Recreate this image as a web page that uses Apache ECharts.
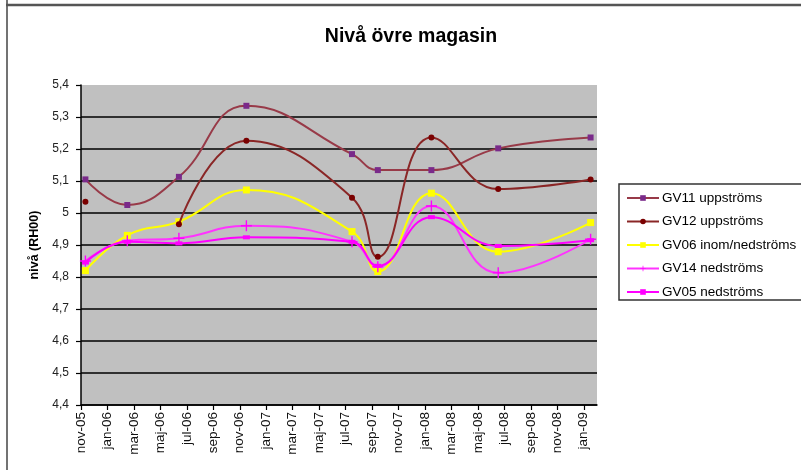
<!DOCTYPE html>
<html>
<head>
<meta charset="utf-8">
<script src="https://cdn.jsdelivr.net/npm/echarts@6/dist/echarts.min.js"></script>
<style>
html,body{margin:0;padding:0;background:#fff;}
#chart{width:801px;height:470px;}
</style>
</head>
<body>
<div id="chart"></div>
<script>
// ---- data ----
const sampleDates = ['2005-11-11','2006-02-15','2006-06-13','2006-11-16','2007-07-16','2007-09-14','2008-01-16','2008-06-17','2009-01-17'];
const gv11 = [5.105, 5.025, 5.113, 5.335, 5.184, 5.134, 5.134, 5.202, 5.236];
const gv12 = [5.035, null, 4.965, 5.226, 5.048, 4.863, 5.236, 5.075, 5.105];
const gv06 = [4.820, 4.930, 4.973, 5.072, 4.942, 4.817, 5.062, 4.879, 4.970];
const gv14 = [4.850, 4.913, 4.921, 4.960, 4.910, 4.832, 5.022, 4.813, 4.918];
const gv05 = [4.845, 4.910, 4.905, 4.924, 4.910, 4.835, 4.987, 4.897, 4.915];
const seriesNames = ['GV11 uppströms','GV12 uppströms','GV06 inom/nedströms','GV14 nedströms','GV05 nedströms'];
const xTickLabels = ['nov-05','jan-06','mar-06','maj-06','jul-06','sep-06','nov-06','jan-07','mar-07','maj-07','jul-07','sep-07','nov-07','jan-08','mar-08','maj-08','jul-08','sep-08','nov-08','jan-09'];
const yTickValues = [4.4,4.5,4.6,4.7,4.8,4.9,5.0,5.1,5.2,5.3,5.4];

// months since 2005-11-01
function monthsFromStart(s){
  const [y,m,d] = s.split('-').map(Number);
  const dim = new Date(y, m, 0).getDate();
  return (y-2005)*12 + (m-11) + (d-1)/dim;
}
const xs = sampleDates.map(monthsFromStart);
const tickMonths = xTickLabels.map((_,i)=>i*2);

function pairs(vals){ return vals.map((v,i)=>[xs[i], v]); }

const plusPath = 'path://M3.5,0h1v3.5h3.5v1h-3.5v3.5h-1v-3.5h-3.5v-1h3.5z';

const chart = echarts.init(document.getElementById('chart'), null, {renderer:'canvas'});
const gridColors = yTickValues.map((v,i)=> i===yTickValues.length-1 ? 'rgba(0,0,0,0)' : '#000');

const option = {
  backgroundColor:'#fff',
  animation:false,
  title:{
    text:'Nivå övre magasin',
    left:406, top:22, textAlign:'center',
    textStyle:{fontFamily:'Arial, Liberation Sans', fontSize:19.5, fontWeight:'bold', color:'#000'}
  },
  graphic:[
    {type:'line', shape:{x1:7,y1:0,x2:7,y2:470}, style:{stroke:'#444', lineWidth:1.5}},
    {type:'line', shape:{x1:6,y1:5,x2:801,y2:5}, style:{stroke:'#555', lineWidth:2.5}},
    {type:'rect', shape:{x:619,y:184,width:200,height:116}, style:{fill:'#fff', stroke:'#333', lineWidth:1.5}, z:0}
  ],
  legend:{
    orient:'vertical', left:621, top:186,
    itemWidth:32, itemHeight:7, itemGap:9.5,
    textStyle:{fontFamily:'Arial, Liberation Sans', fontSize:13.5, color:'#000', padding:[0,0,0,-2]},
    data:seriesNames,
    z:5
  },
  grid:{left:81, right:204, top:85, bottom:65, show:true, backgroundColor:'#c0c0c0', borderWidth:0},
  xAxis:{
    type:'value', min:0, max:39, interval:2,
    axisLine:{show:true, onZero:false, lineStyle:{color:'#000', width:1.5}},
    axisTick:{show:true, length:5, customValues:tickMonths, lineStyle:{color:'#000', width:1.2}},
    splitLine:{show:false},
    axisLabel:{
      customValues:tickMonths,
      rotate:90, margin:7,
      fontFamily:'Arial, Liberation Sans', fontSize:13.5, color:'#111',
      formatter:(v)=>{ const i=Math.round(v/2); return xTickLabels[i]||''; }
    }
  },
  yAxis:{
    type:'value', min:4.4, max:5.4, interval:0.1,
    name:'nivå (RH00)', nameLocation:'middle', nameGap:40,
    nameTextStyle:{fontFamily:'Arial, Liberation Sans', fontSize:12.5, fontWeight:'bold', color:'#000'},
    axisLine:{show:true, lineStyle:{color:'#000', width:1.5}},
    axisTick:{show:true, length:5, lineStyle:{color:'#000', width:1.2}},
    splitLine:{show:true, lineStyle:{color:gridColors, width:1.5}},
    axisLabel:{
      margin:12,
      fontFamily:'Arial, Liberation Sans', fontSize:12, color:'#222',
      formatter:(v)=> String(Math.round(v*10)/10).replace('.', ',')
    }
  },
  series:[
    {name:seriesNames[0], type:'line', smooth:0.45, data:pairs(gv11), showSymbol:true,
     symbol:'rect', symbolSize:6, lineStyle:{color:'#983a48', width:2},
     itemStyle:{color:'#7a2a8a'}, z:3},
    {name:seriesNames[1], type:'line', smooth:0.45, data:pairs(gv12), showSymbol:true, connectNulls:false,
     symbol:'circle', symbolSize:6, lineStyle:{color:'#8a2626', width:2},
     itemStyle:{color:'#7a0000'}, z:3},
    {name:seriesNames[2], type:'line', smooth:0.45, data:pairs(gv06), showSymbol:true,
     symbol:'rect', symbolSize:7, lineStyle:{color:'#ffff00', width:2},
     itemStyle:{color:'#ffff00'}, z:2},
    {name:seriesNames[3], type:'line', smooth:0.45, data:pairs(gv14), showSymbol:true,
     symbol:plusPath, symbolSize:11, lineStyle:{color:'#ff33ff', width:2},
     itemStyle:{color:'#ff00ff'}, z:2},
    {name:seriesNames[4], type:'line', smooth:0.45, data:pairs(gv05), showSymbol:true,
     symbol:'rect', symbolSize:[7,4], lineStyle:{color:'#ff00ff', width:2},
     itemStyle:{color:'#ff00ff'}, z:2}
  ]
};
chart.setOption(option);
</script>
</body>
</html>
